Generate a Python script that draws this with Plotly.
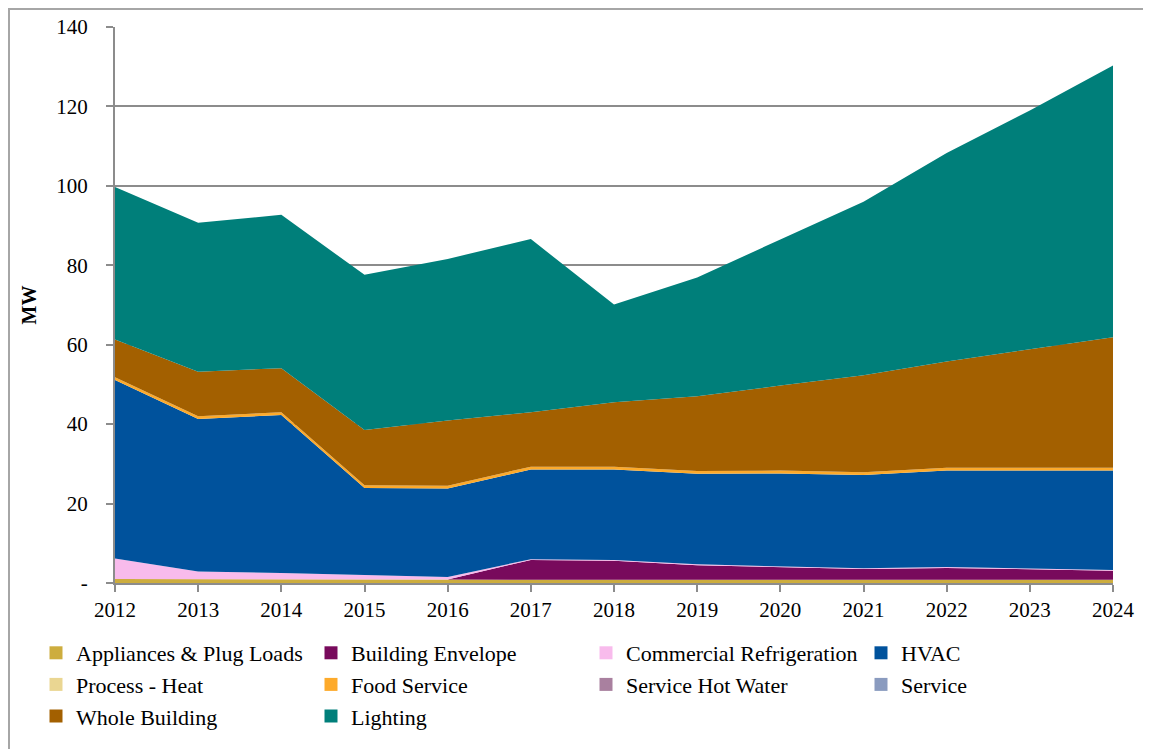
import plotly.graph_objects as go

years = [2012, 2013, 2014, 2015, 2016, 2017, 2018, 2019, 2020, 2021, 2022, 2023, 2024]

appliances = [1.0, 1.0, 1.0, 0.9, 0.9, 0.8, 0.8, 0.8, 0.8, 0.8, 0.8, 0.8, 0.8]
process_heat = [0, 0, 0, 0, 0, 0, 0, 0, 0, 0, 0, 0, 0]
envelope = [0, 0, 0, 0, 0, 5.0, 4.8, 3.7, 3.2, 2.7, 3.0, 2.6, 2.3]
refrigeration = [5.2, 1.9, 1.5, 1.1, 0.6, 0.2, 0.2, 0.2, 0.2, 0.2, 0.2, 0.2, 0.2]
hvac = [44.9, 38.4, 39.8, 21.9, 22.3, 22.6, 22.8, 22.8, 23.4, 23.5, 24.3, 24.7, 25.0]
food_service = [0.7, 0.7, 0.7, 0.7, 0.7, 0.7, 0.7, 0.7, 0.7, 0.7, 0.7, 0.7, 0.7]
hot_water = [0, 0, 0, 0, 0, 0, 0, 0, 0, 0, 0, 0, 0]
service = [0, 0, 0, 0, 0, 0, 0, 0, 0, 0, 0, 0, 0]
whole_building = [9.5, 11.2, 11.1, 13.9, 16.4, 13.7, 16.2, 18.8, 21.4, 24.4, 26.8, 29.9, 32.9]
lighting = [38.4, 37.5, 38.6, 39.1, 40.7, 43.6, 24.6, 29.9, 36.8, 43.7, 52.5, 60.1, 68.4]

# stacking order (bottom -> top), with legend rank
series = [
    ("Appliances & Plug Loads", appliances, "#CDAD3E", 1),
    ("Process - Heat", process_heat, "#EAD692", 5),
    ("Building Envelope", envelope, "#780A5C", 2),
    ("Commercial Refrigeration", refrigeration, "#F8BBEC", 3),
    ("HVAC", hvac, "#00529C", 4),
    ("Food Service", food_service, "#FDAA2B", 6),
    ("Service Hot Water", hot_water, "#A9809F", 7),
    ("Service", service, "#8A9BBF", 8),
    ("Whole Building", whole_building, "#A36000", 9),
    ("Lighting", lighting, "#007F7A", 10),
]

FONT = "Liberation Serif"
W, H = 1143, 741  # page has an 8px body margin
L, T, PW, PH = 107, 19, 998, 556  # plot area in figure px
fig = go.Figure()

for name, vals, col, rank in series:
    fig.add_trace(go.Scatter(
        x=years, y=vals, name=name, mode="lines", stackgroup="one",
        line=dict(width=0, color=col), fillcolor=col,
        showlegend=False, hoverinfo="x+y+name",
    ))

# square swatches for the legend
for name, vals, col, rank in series:
    fig.add_trace(go.Scatter(
        x=[None], y=[None], name=name, mode="markers",
        marker=dict(symbol="square", size=13, color=col),
        legendrank=rank, showlegend=True,
    ))

grid = "#8C8C8C"
fig.update_xaxes(
    range=[2012, 2024], tickvals=years, ticks="outside", ticklen=7,
    tickwidth=2, tickcolor=grid, showline=True, linecolor=grid, linewidth=2,
    showgrid=False, zeroline=False,
    tickfont=dict(family=FONT, size=21, color="black"),
)
fig.update_yaxes(
    range=[0, 140], tickvals=[0, 20, 40, 60, 80, 100, 120, 140],
    ticktext=["-", "20", "40", "60", "80", "100", "120", "140"],
    ticks="outside", ticklen=7, tickwidth=2, tickcolor=grid,
    showline=True, linecolor=grid, linewidth=2,
    showgrid=True, gridcolor=grid, gridwidth=2, zeroline=False,
    ticklabelstandoff=14,
    tickfont=dict(family=FONT, size=21, color="black"),
    title=dict(text="<b>MW</b>", font=dict(family=FONT, size=20, color="black"), standoff=14),
    layer="below traces",
)

fig.update_layout(
    width=W, height=H,
    margin=dict(l=L, r=W - L - PW, t=T, b=H - T - PH, autoexpand=False),
    paper_bgcolor="white", plot_bgcolor="white",
    font=dict(family=FONT, color="black"),
    legend=dict(
        orientation="h", traceorder="normal",
        xref="paper", yref="paper",
        x=(28 - L) / PW, y=(T + PH - 624) / PH, xanchor="left", yanchor="top",
        entrywidth=230, entrywidthmode="pixels",
        font=dict(family=FONT, size=22, color="black"),
        bgcolor="rgba(0,0,0,0)",
    ),
    shapes=[dict(
        type="rect", xref="paper", yref="paper",
        x0=(1 - L) / PW, x1=(1139 - L) / PW,
        y0=(T + PH - 760) / PH, y1=(T + PH - 1) / PH,
        line=dict(color="#A6A6A6", width=2), fillcolor="rgba(0,0,0,0)",
        layer="below",
    )],
)

fig.write_html("out.html")
